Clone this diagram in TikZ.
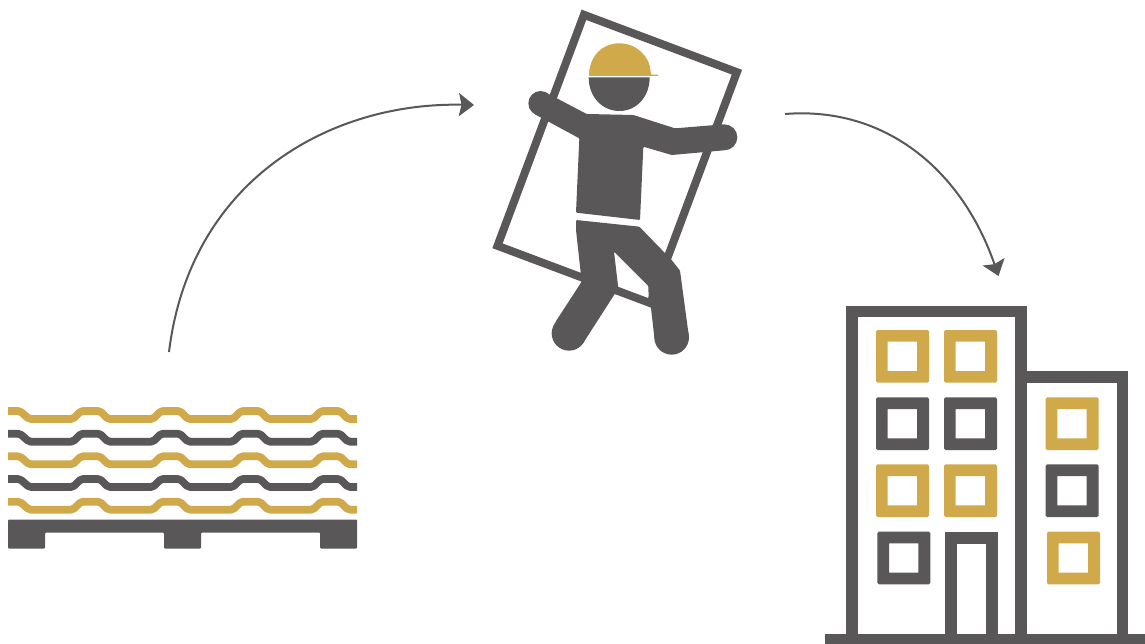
\documentclass[tikz,border=0pt]{standalone}
\usetikzlibrary{arrows.meta}
\definecolor{ink}{HTML}{595757}
\definecolor{gold}{HTML}{D0AA4A}
\tikzset{
  flow/.style={draw=ink,line width=2pt,-{Stealth[length=15pt,width=23pt,inset=2.5pt]}},
  sheet/.style={draw=#1,line width=7.7pt,line join=round,rounded corners=2pt},
  wall/.style={draw=ink,line width=11.7pt,line join=miter},
  frame/.style={draw=ink,line width=8pt,line join=miter},
  zoomed/.style={x=0.33333pt,y=-0.33333pt},
}
\newcommand{\sheetline}[2]{%
  \draw[sheet=#1] (8,#2) -- (20,#2) -- (29,#2+8) -- (73,#2+8) -- (81,#2) -- (100,#2) -- (108,#2+8)
    -- (153,#2+8) -- (161,#2) -- (180,#2) -- (188,#2+8)
    -- (233,#2+8) -- (241,#2) -- (260,#2) -- (268,#2+8)
    -- (313,#2+8) -- (321,#2) -- (340,#2) -- (348,#2+8) -- (357,#2+8);}
\newcommand{\panebox}[3]{%
  \fill[#1,even odd rule] [rounded corners=1.5pt] (#2,#3) rectangle (#2+159,#3+158) [sharp corners] (#2+35,#3+35) rectangle (#2+123,#3+123);}
\begin{document}
\begin{tikzpicture}[x=1pt,y=-1pt]
\useasboundingbox (0,0) rectangle (1145,644);
% window frame carried by the worker
\draw[frame] (583.9,14.8) -- (736.9,72.2) -- (650.5,303.2) -- (497.5,245.8) -- cycle;
% worker
\begin{scope}[shift={(490,0)},zoomed]
  \fill[ink] (152,310) circle[radius=37pt/3];
  \fill[ink] (703,412) circle[radius=39pt/3];
  \fill[ink,rounded corners=1pt] (170,279) -- (290,342) -- (430,345) -- (555,385) -- (700,373) -- (702,451) -- (545,465)
     -- (460,440) -- (450,660) -- (258,638) -- (268,415) -- (133,342) -- cycle;
  \fill[ink] (296,232) -- (479,232) .. controls (479,290) and (440,333) .. (388,333) .. controls (336,333) and (296,290) .. (296,232) -- cycle;
  \fill[gold] (297,228) .. controls (297,170) and (335,130) .. (388,130) .. controls (440,130) and (480,170) .. (482,215)
     -- (484,224) -- (504,224) -- (504,228) -- cycle;
  \fill[ink] (545,1012) circle[radius=52pt/3];
  \fill[ink] (237,1000) circle[radius=52pt/3];
  \fill[ink,rounded corners=1pt] (258,660) -- (448,680) -- (545,780) -- (570,812) -- (597,1012) -- (494,1020) -- (483,925)
     -- (476,895) -- (475,858) -- (372,755) -- (385,865) -- (279,1030) -- (195,968) -- (275,845) -- (258,690) -- cycle;
\end{scope}
% stack of sheets
\sheetline{gold}{411}
\sheetline{ink}{433.7}
\sheetline{gold}{456.3}
\sheetline{ink}{479}
\sheetline{gold}{501.7}
\fill[ink,rounded corners=1pt] (8,519.5) -- (357,519.5) -- (357,548.5) -- (320,548.5) -- (320,532.5) -- (201,532.5) -- (201,548.5)
  -- (164,548.5) -- (164,532.5) -- (45,532.5) -- (45,548.5) -- (8,548.5) -- cycle;
% building
\begin{scope}[shift={(820,300)},zoomed]
  \fill[ink] (15,1002) rectangle (975,1040);
  \draw[wall] (95,1002) -- (95,34.5) -- (603,34.5) -- (603,1002);
  \draw[wall] (603,231) -- (907.5,231) -- (907.5,1002);
  \draw[wall] (393.5,1002) -- (393.5,713) -- (516,713) -- (516,1002);
  \panebox{gold}{168}{90}
  \panebox{gold}{372}{90}
  \panebox{ink}{168}{292}
  \panebox{ink}{372}{292}
  \panebox{gold}{168}{493}
  \panebox{gold}{372}{493}
  \panebox{ink}{172}{695}
  \panebox{gold}{677}{292}
  \panebox{ink}{677}{493}
  \panebox{gold}{681}{695}
\end{scope}
% flow arrows
\coordinate (stackTop) at (169,352);
\coordinate (workerIn) at (474,105);
\coordinate (workerOut) at (785,114);
\coordinate (buildingTop) at (998.5,276);
\draw[flow] (stackTop) .. controls (190,180) and (330,102) .. (workerIn);
\draw[flow] (workerOut) .. controls (885,106) and (962,170) .. (buildingTop);
\end{tikzpicture}
\end{document}
